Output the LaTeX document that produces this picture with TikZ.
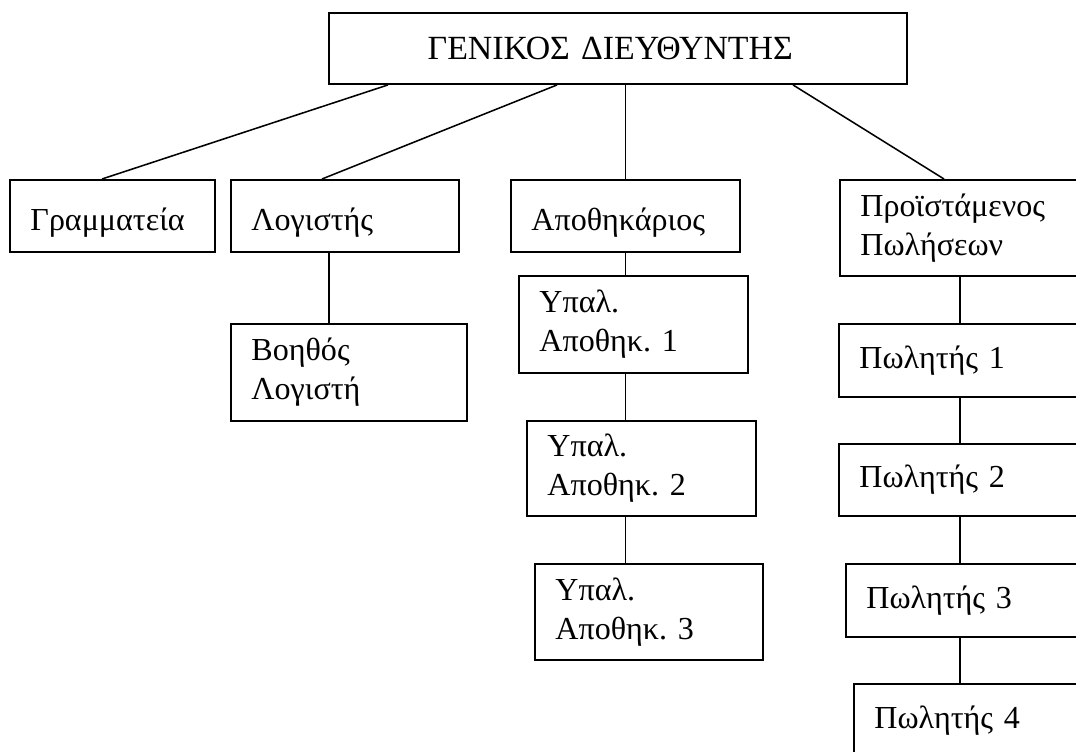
\documentclass[tikz,border=0pt]{standalone}
\usepackage{fontspec}
\setmainfont{Liberation Serif}
\usetikzlibrary{calc}
\frenchspacing

\begin{document}
\begin{tikzpicture}[x=0.39pt, y=-0.39pt,
    box/.style 2 args={draw=borderColour, line width=0.75pt, rectangle, anchor=north west,
        inner xsep=8pt, inner ysep=0pt, align=left, minimum width=#1, minimum height=#2,
        text width=#1-16pt, font=\fontsize{12.5}{15.2}\selectfont},
    lowtext/.style={text height=11pt, text depth=0pt},
    link/.style={draw=borderColour, line width=0.6pt}]
    % Define colours
    \definecolor{borderColour}{HTML}{000000}

    % Fix page size
    \useasboundingbox (0,0) rectangle (1076,752);
    \clip (0,0) rectangle (1076,752);

    % Top box
    \node[box={225.4pt}{27.7pt}, inner xsep=38.5pt, text width=148.4pt,
        font=\fontsize{13.2}{15.2}\selectfont] (dir) at (328,12) {ΓΕΝΙΚΟΣ ΔΙΕΥΘΥΝΤΗΣ};

    % First level
    \node[box={80pt}{28.1pt}, lowtext] (gram) at (9,179) {Γραμματεία};
    \node[box={88.9pt}{28.1pt}, lowtext] (logist) at (230,179) {Λογιστής};
    \node[box={89.3pt}{28.1pt}, lowtext] (apoth) at (510,179) {Αποθηκάριος};
    \node[box={97.5pt}{37.4pt}] (proist) at (839,179) {Προϊστάμενος\\Πωλήσεων};

    % Accounting
    \node[box={92pt}{37.8pt}] (voith) at (230,323) {Βοηθός\\Λογιστή};

    % Store
    \node[box={89.3pt}{37.8pt}] (ypal1) at (518,275) {Υπαλ.\\Αποθηκ. 1};
    \node[box={89.3pt}{37.1pt}] (ypal2) at (526,420) {Υπαλ.\\Αποθηκ. 2};
    \node[box={88.9pt}{37.4pt}] (ypal3) at (534,563) {Υπαλ.\\Αποθηκ. 3};

    % Sales
    \node[box={97.5pt}{28.5pt}] (pol1) at (838,323) {Πωλητής 1};
    \node[box={97.5pt}{28.1pt}] (pol2) at (838,443) {Πωλητής 2};
    \node[box={97.5pt}{28.5pt}] (pol3) at (845,563) {Πωλητής 3};
    \node[box={97.5pt}{28.5pt}] (pol4) at (853,683) {Πωλητής 4};

    % Director to first level
    \draw[link] ($(dir.south west)+(60,0)$) -- ($(gram.north west)+(93,0)$);
    \draw[link] ($(dir.south west)+(229,0)$) -- ($(logist.north west)+(92,0)$);
    \draw[link] (apoth.north |- dir.south) -- (apoth.north);
    \draw[link] ($(dir.south west)+(465,0)$) -- ($(proist.north west)+(105,0)$);

    % Vertical chains
    \coordinate (accline) at ($(logist.south west)+(99,0)$);
    \draw[link] (accline) -- (accline |- voith.north);
    \coordinate (storeline) at (apoth.south);
    \foreach \a/\b in {apoth/ypal1, ypal1/ypal2, ypal2/ypal3}
        \draw[link] (storeline |- \a.south) -- (storeline |- \b.north);
    \coordinate (salesline) at ($(proist.south west)+(121,0)$);
    \foreach \a/\b in {proist/pol1, pol1/pol2, pol2/pol3, pol3/pol4}
        \draw[link] (salesline |- \a.south) -- (salesline |- \b.north);

\end{tikzpicture}
\end{document}
